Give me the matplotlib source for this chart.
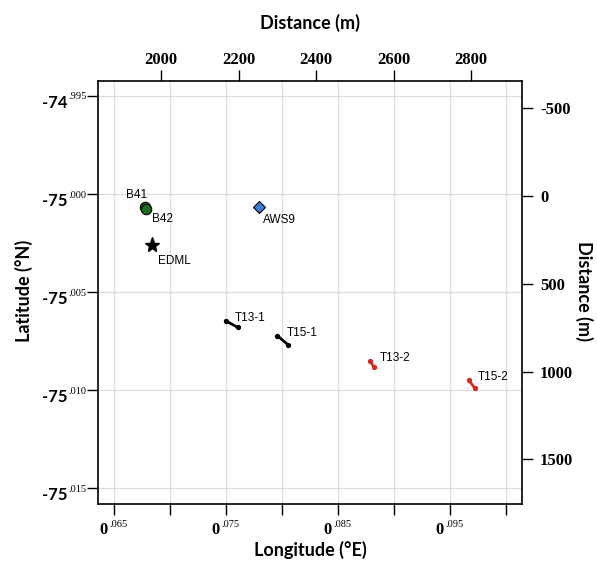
import matplotlib
matplotlib.use("Agg")
import matplotlib.pyplot as plt

# ---------------------------
# DATA
# ---------------------------
site_names = ["B41", "B42", "AWS9", "EDML"]
site_lon = [0.06777, 0.06786, 0.07792, 0.06837]
site_lat = [-75.00068, -75.00075, -75.00068, -75.00260]

trav_names = ["T13-1", "T15-1", "T13-2", "T15-2"]
trav_lon_start = [0.07497, 0.07958, 0.08790, 0.09667]
trav_lon_end = [0.07605, 0.08051, 0.08821, 0.09723]
trav_lat_start = [-75.00646, -75.00722, -75.00853, -75.00948]
trav_lat_end = [-75.00680, -75.00767, -75.00884, -75.00991]
trav_colors = ["black", "black", "#d42a2a", "#d42a2a"]

lon_ticks = [0.065, 0.070, 0.075, 0.080, 0.085, 0.090, 0.095, 0.100]
lon_labelled = [0.065, 0.075, 0.085, 0.095]
lat_ticks = [-74.995, -75.000, -75.005, -75.010, -75.015]
top_ticks = [2000, 2200, 2400, 2600, 2800]
right_ticks = [-500, 0, 500, 1000, 1500]

# conversion to metres
M_PER_DEG_LON = 28900.0
M_PER_DEG_LAT = 111600.0
LAT0 = -75.0000865

# ---------------------------
# PLOT
# ---------------------------
fig = plt.figure(figsize=(5.97, 5.73), dpi=100)
ax = fig.add_axes([0.1642, 0.1204, 0.7102, 0.7382])

ax.set_xlim(0.06357, 0.10143)
ax.set_ylim(-75.0158, -74.99424)

ax.grid(True, color="#dcdcdc", lw=0.9)
ax.set_axisbelow(True)

for i in range(len(trav_names)):
    ax.plot([trav_lon_start[i], trav_lon_end[i]], [trav_lat_start[i], trav_lat_end[i]],
            color=trav_colors[i], lw=2.0, marker="o", ms=2.8, zorder=3)
    ax.annotate(trav_names[i], (trav_lon_start[i], trav_lat_start[i]),
                xytext=(9, 3), textcoords="offset pixels", ha="left", va="center",
                fontsize=8.5, family="Liberation Sans")

ax.plot(site_lon[0], site_lat[0], "o", ms=7.5, mfc="#1b6e1b", mec="black", mew=0.8, zorder=4)
ax.plot(site_lon[1], site_lat[1], "o", ms=7.5, mfc="#1b6e1b", mec="black", mew=0.8, zorder=4)
ax.plot(site_lon[2], site_lat[2], "D", ms=6.5, mfc="#3b7dd8", mec="black", mew=0.8, zorder=4)
ax.plot(site_lon[3], site_lat[3], "*", ms=11, color="black", zorder=4)

offsets = [(-9, 12, "center"), (6, -10, "left"), (4, -13, "left"), (6, -16, "left")]
for name, lo, la, (dx, dy, ha) in zip(site_names, site_lon, site_lat, offsets):
    ax.annotate(name, (lo, la), xytext=(dx, dy), textcoords="offset pixels",
                ha=ha, va="center", fontsize=8.5, family="Liberation Sans")

# primary ticks, labels drawn by hand (big number + small superscript)
ax.set_xticks(lon_ticks)
ax.set_yticks(lat_ticks)
ax.set_xticklabels([])
ax.set_yticklabels([])
ax.tick_params(direction="out", length=8, width=1, top=False, right=False)

for v in lon_labelled:
    ax.annotate("0", (v, 0), xycoords=("data", "axes fraction"), xytext=(-6, -30),
                textcoords="offset pixels", ha="right", va="baseline",
                fontsize=12, family="Liberation Serif", weight="bold")
    ax.annotate(("%.3f" % v)[1:], (v, 0), xycoords=("data", "axes fraction"), xytext=(-5, -23),
                textcoords="offset pixels", ha="left", va="baseline",
                fontsize=7.5, family="Liberation Serif")

for v in lat_ticks:
    main = "-74" if v > -75 else "-75"
    sup = ("%.3f" % abs(v)).split(".")[1]
    ax.annotate(main, (0, v), xycoords=("axes fraction", "data"), xytext=(-31, -12),
                textcoords="offset pixels", ha="right", va="baseline",
                fontsize=12, family="Lato", weight="bold")
    ax.annotate("." + sup, (0, v), xycoords=("axes fraction", "data"), xytext=(-30, -3.5),
                textcoords="offset pixels", ha="left", va="baseline",
                fontsize=7.5, family="Liberation Serif")

for sp in ax.spines.values():
    sp.set_linewidth(1.2)
    sp.set_color("black")

# secondary distance axes
top = ax.secondary_xaxis("top", functions=(lambda x: x * M_PER_DEG_LON,
                                           lambda d: d / M_PER_DEG_LON))
top.set_xticks(top_ticks)
top.set_xticklabels([str(t) for t in top_ticks], family="Liberation Serif",
                    weight="bold", fontsize=12)
top.tick_params(direction="out", length=8, width=1, pad=1.5)
top.spines["top"].set_visible(False)

right = ax.secondary_yaxis("right", functions=(lambda y: (LAT0 - y) * M_PER_DEG_LAT,
                                               lambda d: LAT0 - d / M_PER_DEG_LAT))
right.set_yticks(right_ticks)
right.set_yticklabels([str(t) for t in right_ticks], family="Liberation Serif",
                      weight="bold", fontsize=12)
right.tick_params(direction="out", length=8, width=1, pad=5)
right.spines["right"].set_visible(False)

# axis titles
fig.text(0.5193, 1 - 23 / 573, "Distance (m)", ha="center", va="center",
         fontsize=13, family="Lato", weight="bold")
fig.text(0.5193, 1 - 550 / 573, "Longitude (°E)", ha="center", va="center",
         fontsize=13, family="Lato", weight="bold")
fig.text(24 / 597, 1 - 291 / 573, "Latitude (°N)", ha="center", va="center",
         rotation=90, fontsize=13, family="Lato", weight="bold")
fig.text(584 / 597, 1 - 291 / 573, "Distance (m)", ha="center", va="center",
         rotation=270, fontsize=13, family="Lato", weight="bold")

fig.savefig("out.png", dpi=100)
